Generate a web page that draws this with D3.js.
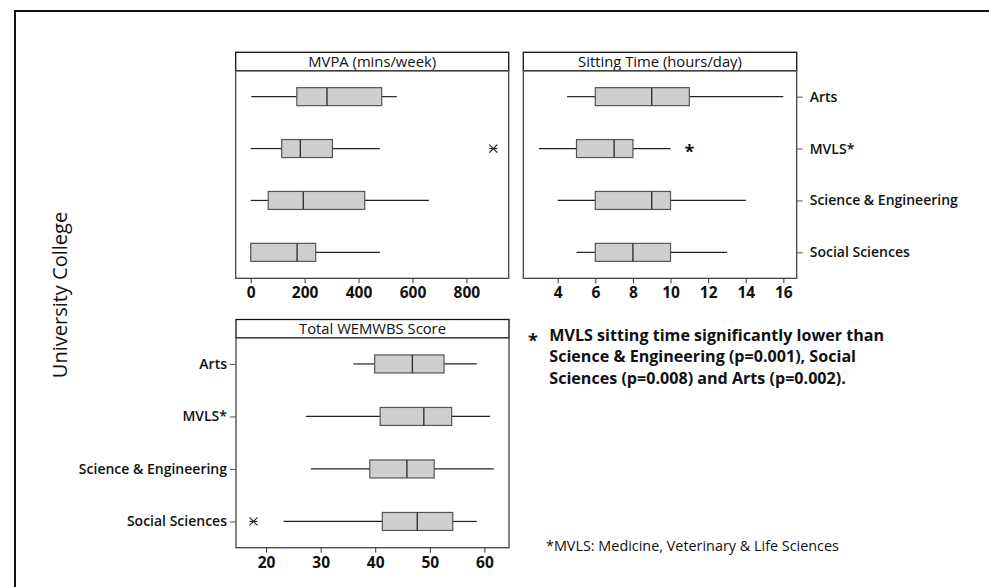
<!DOCTYPE html>
<html>
<head>
<meta charset="utf-8">
<script src="https://cdn.jsdelivr.net/npm/d3@7"></script>
<style>
  html, body { margin: 0; padding: 0; background: #fff; overflow: hidden; }
  svg { display: block; font-family: "Open Sans", "Noto Sans", sans-serif; }
</style>
</head>
<body>
<svg id="chart" width="989" height="587"></svg>
<script>
// Faculty groups (top to bottom)
const categories = ["Arts", "MVLS*", "Science & Engineering", "Social Sciences"];

// Five-number summaries per group: [lower whisker, Q1, median, Q3, upper whisker]
const mvpaStats = [
  [2, 171, 283, 486, 542],
  [0, 115, 184, 303, 479],
  [0, 65, 195, 423, 661],
  [0, 0, 172, 241, 479]
];
const sittingStats = [
  [4.5, 6, 9, 11, 16],
  [3, 5, 7, 8, 10],
  [4, 6, 9, 10, 14],
  [5, 6, 8, 10, 13]
];
const wemwbsStats = [
  [36.0, 39.9, 46.8, 52.6, 58.6],
  [27.3, 40.9, 48.9, 54.0, 61.0],
  [28.2, 39.0, 45.8, 50.8, 61.7],
  [23.2, 41.3, 47.7, 54.2, 58.6]
];

// Outliers: [group, value]
const mvpaOutliers = [["MVLS*", 900]];
const wemwbsOutliers = [["Social Sciences", 17.7]];
// Significance marker on the sitting-time panel: [group, value]
const sittingMarks = [["MVLS*", 11]];

// Axis tick values
const mvpaTicks = [0, 200, 400, 600, 800];
const sittingTicks = [4, 6, 8, 10, 12, 14, 16];
const wemwbsTicks = [20, 30, 40, 50, 60];

// Panel titles and notes
const panelTitles = ["MVPA (mins/week)", "Sitting Time (hours/day)", "Total WEMWBS Score"];
const yTitle = "University College";
const noteLines = [
  "MVLS sitting time significantly lower than",
  "Science & Engineering (p=0.001), Social",
  "Sciences (p=0.008) and Arts (p=0.002)."
];
const footnote = "*MVLS: Medicine, Veterinary & Life Sciences";

const svg = d3.select("#chart");

// outer frame
svg.append("path")
  .attr("d", "M15,600 L15,11 L1000,11")
  .attr("fill", "none").attr("stroke", "#111").attr("stroke-width", 2);

const panels = [
  { title: panelTitles[0], stats: mvpaStats, outliers: mvpaOutliers, marks: [], ticks: mvpaTicks,
    x0: 235.7, x1: 508.7, top: 52.3, head: 70.7, bottom: 278.3, domain: [-55.7, 957], yAxis: null },
  { title: panelTitles[1], stats: sittingStats, outliers: [], marks: sittingMarks, ticks: sittingTicks,
    x0: 523.3, x1: 796.7, top: 52.3, head: 70.7, bottom: 278.3, domain: [2.17, 16.71], yAxis: "right" },
  { title: panelTitles[2], stats: wemwbsStats, outliers: wemwbsOutliers, marks: [], ticks: wemwbsTicks,
    x0: 236, x1: 509, top: 319.5, head: 337.7, bottom: 547.7, domain: [14.5, 64.5], yAxis: "left" }
];

const boxFill = "#cfcfcf";
const boxStroke = "#555";
const lineColor = "#222";

panels.forEach(p => {
  const g = svg.append("g");
  const x = d3.scaleLinear().domain(p.domain).range([p.x0, p.x1]);
  const y = d3.scalePoint().domain(categories).range([p.head, p.bottom]).padding(0.5);
  const bh = 18;

  // header strip
  g.append("rect")
    .attr("x", p.x0).attr("y", p.top)
    .attr("width", p.x1 - p.x0).attr("height", p.head - p.top)
    .attr("fill", "#fff").attr("stroke", "#111").attr("stroke-width", 1.3);
  g.append("text")
    .attr("x", (p.x0 + p.x1) / 2).attr("y", p.head - 3.8)
    .attr("text-anchor", "middle")
    .attr("font-size", 14.8).attr("fill", "#111")
    .text(p.title);

  // plot frame
  g.append("rect")
    .attr("x", p.x0).attr("y", p.head)
    .attr("width", p.x1 - p.x0).attr("height", p.bottom - p.head)
    .attr("fill", "none").attr("stroke", "#444").attr("stroke-width", 1.3);

  // x axis
  const xAxis = g.append("g")
    .attr("transform", `translate(0,${p.bottom})`)
    .call(d3.axisBottom(x).tickValues(p.ticks).tickSize(5).tickPadding(4).tickFormat(d3.format("d")));
  xAxis.select(".domain").remove();
  xAxis.selectAll("line").attr("stroke", "#333");
  xAxis.selectAll("text")
    .attr("font-family", "'Open Sans', sans-serif")
    .attr("font-size", 15.5).attr("font-weight", 700).attr("fill", "#111");

  // category axis
  if (p.yAxis) {
    const ax = p.yAxis === "left" ? d3.axisLeft(y) : d3.axisRight(y);
    const yg = g.append("g")
      .attr("transform", `translate(${p.yAxis === "left" ? p.x0 : p.x1},0)`)
      .call(ax.tickSize(6).tickPadding(p.yAxis === "left" ? 3 : 7));
    yg.select(".domain").remove();
    yg.selectAll("line").attr("stroke", "#555");
    yg.selectAll("text")
      .attr("font-family", "'Open Sans', sans-serif")
      .attr("font-size", 14).attr("font-weight", 600).attr("fill", "#111");
  }

  // boxes
  const rows = g.selectAll("g.row").data(p.stats).enter().append("g").attr("class", "row")
    .attr("transform", (d, i) => `translate(0,${y(categories[i])})`);
  rows.append("line")
    .attr("x1", d => x(d[0])).attr("x2", d => x(d[1]))
    .attr("stroke", lineColor).attr("stroke-width", 1.2);
  rows.append("line")
    .attr("x1", d => x(d[3])).attr("x2", d => x(d[4]))
    .attr("stroke", lineColor).attr("stroke-width", 1.2);
  rows.append("rect")
    .attr("x", d => x(d[1])).attr("y", -bh / 2)
    .attr("width", d => x(d[3]) - x(d[1])).attr("height", bh)
    .attr("fill", boxFill).attr("stroke", boxStroke).attr("stroke-width", 1.2);
  rows.append("line")
    .attr("x1", d => x(d[2])).attr("x2", d => x(d[2]))
    .attr("y1", -bh / 2).attr("y2", bh / 2)
    .attr("stroke", "#333").attr("stroke-width", 1.4);

  // outliers drawn as asterisk symbols
  p.outliers.forEach(([cat, v]) => {
    const cx = x(v), cy = y(cat), r = 4;
    const o = g.append("g").attr("stroke", "#222").attr("stroke-width", 1.1);
    o.append("line").attr("x1", cx - r).attr("y1", cy - r).attr("x2", cx + r).attr("y2", cy + r);
    o.append("line").attr("x1", cx - r).attr("y1", cy + r).attr("x2", cx + r).attr("y2", cy - r);
    o.append("line").attr("x1", cx - r).attr("y1", cy).attr("x2", cx + r).attr("y2", cy);
  });

  // significance marker
  p.marks.forEach(([cat, v]) => {
    g.append("text")
      .attr("x", x(v)).attr("y", y(cat) + 9)
      .attr("text-anchor", "middle")
      .attr("font-size", 18).attr("font-weight", 700).attr("fill", "#111")
      .text("*");
  });
});

// vertical group title
svg.append("text")
  .attr("transform", "translate(67,295) rotate(-90)")
  .attr("text-anchor", "middle")
  .attr("font-size", 20).attr("fill", "#111")
  .text(yTitle);

// significance note
svg.append("text")
  .attr("x", 533).attr("y", 347)
  .attr("text-anchor", "middle")
  .attr("font-size", 18).attr("font-weight", 700).attr("fill", "#111")
  .text("*");
svg.append("g").selectAll("text").data(noteLines).enter().append("text")
  .attr("x", 549.3).attr("y", (d, i) => 341 + i * 21.3)
  .attr("font-size", 16.1).attr("font-weight", 700).attr("fill", "#111")
  .text(d => d);

// footnote
svg.append("text")
  .attr("x", 546).attr("y", 550.5)
  .attr("font-size", 14.4).attr("fill", "#111")
  .text(footnote);
</script>
</body>
</html>
